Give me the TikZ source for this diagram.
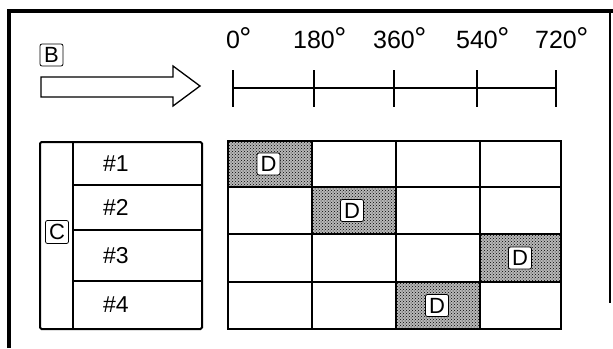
\documentclass[tikz,border=0pt]{standalone}
\usepackage{fontspec}
\setmainfont{Liberation Sans}
\usetikzlibrary{patterns}
\begin{document}
\begin{tikzpicture}[x=1pt,y=-1pt,
  lbl/.style={font=\fontsize{23}{25}\selectfont, inner sep=0pt},
  boxed/.style={draw, line width=0.8pt, rounded corners=2pt, fill=white,
    inner sep=0pt, minimum width=23pt, minimum height=22pt,
    font=\fontsize{22}{24}\selectfont},
  deglbl/.style={font=\fontsize{25}{28}\selectfont, anchor=base, inner sep=0pt},
  frameline/.style={line width=3.8pt},
  gridline/.style={line width=2pt},
  axisline/.style={line width=2.4pt},
  shadecell/.style={fill=black!28, postaction={pattern=crosshatch dots, pattern color=black}},
]
\useasboundingbox (0,0) rectangle (613,348);

% outer frame (cropped)
\draw[frameline] (9,348) -- (9,11) -- (613,11);
\draw[line width=2.6pt] (610,11) -- (610,303);

% B label and big arrow
\node[boxed] (B) at (51.5,55) {B};
\draw[line width=1.3pt, line join=miter]
  (41,77) -- (173,77) -- (173,66) -- (200,86) -- (173,106) -- (173,97) -- (41,97) -- cycle;

% axis
\foreach \i/\x/\t in {0/233/0,1/314/180,2/394/360,3/477/540,4/556/720}{
  \coordinate (t\i) at (\x,88);
  \coordinate (t\i a) at (\x,70);
  \coordinate (t\i b) at (\x,107);
  \draw[axisline] (t\i a) -- (t\i b);
  \node[deglbl] (d\i) at (\x,48) {\t\rlap{\kern-0.5pt\raisebox{-0.5pt}{\fontsize{30}{30}\selectfont °}}};
}
\draw[axisline] (t0) -- (t4);

% left table
\draw[gridline, rounded corners=1.5pt] (40,142) rectangle (202,329);
\draw[gridline] (73,142) -- (73,329);
\draw[gridline] (73,185) -- (202,185);
\draw[gridline] (73,230) -- (202,230);
\draw[gridline] (73,281) -- (202,281);
\node[lbl] (r1) at (116,163.5) {\#1};
\node[lbl] (r2) at (116,207.5) {\#2};
\node[lbl] (r3) at (116,255.5) {\#3};
\node[lbl] (r4) at (116,305) {\#4};
\node[boxed, minimum height=23pt] (C) at (57,232) {C};

% shaded cells
\path[shadecell] (228,141) rectangle (312,187);
\path[shadecell] (312,187) rectangle (396,234);
\path[shadecell] (480,234) rectangle (561,282);
\path[shadecell] (396,282) rectangle (480,329);

% grid
\draw[gridline] (228,141) rectangle (561,329);
\foreach \x in {312,396,480}{ \draw[gridline] (\x,141) -- (\x,329); }
\foreach \y in {187,234,282}{ \draw[gridline] (228,\y) -- (561,\y); }

% D labels
\node[boxed] (D1) at (268.5,164) {D};
\node[boxed] (D2) at (352,210.5) {D};
\node[boxed] (D3) at (520,258) {D};
\node[boxed] (D4) at (437,305.5) {D};
\end{tikzpicture}
\end{document}
